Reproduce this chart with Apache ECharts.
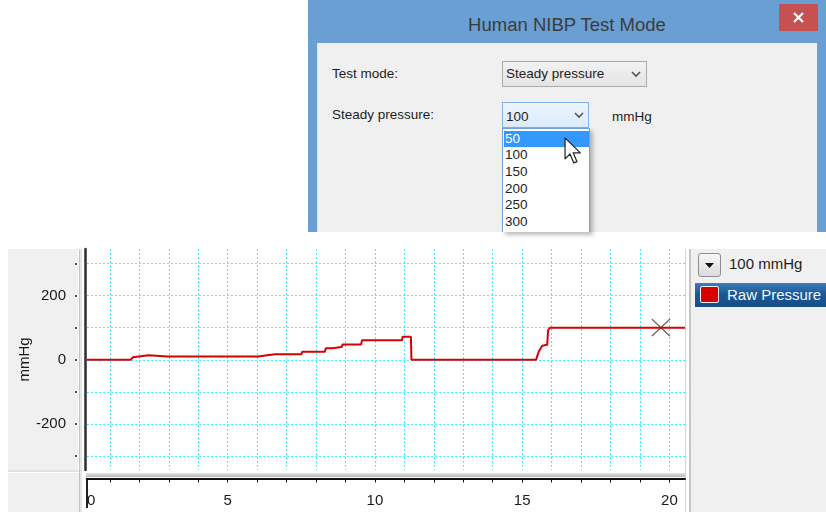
<!DOCTYPE html>
<html>
<head>
<meta charset="utf-8">
<title>Human NIBP Test Mode</title>
<script src="https://cdn.jsdelivr.net/npm/echarts@6.0.0/dist/echarts.min.js"></script>
<style>
html, body { margin: 0; padding: 0; }
body { width: 826px; height: 512px; overflow: hidden; background: #fff; position: relative; font-family: "Liberation Sans", Arial, sans-serif; color: #1e1e1e; }
.box { position: absolute; box-sizing: border-box; }
.txt { position: absolute; white-space: nowrap; font-size: 13.5px; line-height: 16px; }
#chart { position: absolute; left: 0; top: 232px; width: 826px; height: 280px; z-index: 2; }
.item { position: absolute; left: 1px; width: 85px; height: 16.7px; line-height: 16.7px; font-size: 13.5px; padding-left: 1px; box-sizing: border-box; }
</style>
</head>
<body>

<!-- dialog frame -->
<div class="box" style="left:308px;top:0;width:518px;height:232px;background:#6a9fd4;"></div>
<div class="txt" style="left:308px;top:12.5px;width:518px;text-align:center;font-size:18.5px;line-height:24px;color:#3c3c3c;">Human NIBP Test Mode</div>
<div class="box" style="left:779px;top:4px;width:39px;height:27px;background:#c75050;">
  <svg width="39" height="27" style="position:absolute;left:0;top:0"><path d="M15,9 L24,18 M24,9 L15,18" stroke="#fff" stroke-width="2.2"/></svg>
</div>
<div class="box" style="left:317px;top:43px;width:500px;height:189px;background:#f0f0f0;border-left:1px solid #dbe6f2;"></div>

<div class="txt" style="left:332px;top:66px;">Test mode:</div>
<div class="txt" style="left:332px;top:107px;">Steady pressure:</div>

<div class="box" style="left:502px;top:61px;width:145px;height:26px;border:1px solid #acacac;background:linear-gradient(#f2f2f2,#e4e4e4);"></div>
<div class="txt" style="left:506px;top:65.5px;">Steady pressure</div>
<svg class="box" style="left:631px;top:71px" width="10" height="7"><polyline points="1,1 5,5 9,1" fill="none" stroke="#555" stroke-width="1.6"/></svg>

<div class="box" style="left:502px;top:102px;width:87px;height:26px;border:1px solid #7eb4ea;background:linear-gradient(#eef5fd,#dbebfb);"></div>
<div class="txt" style="left:506px;top:108.5px;">100</div>
<svg class="box" style="left:574px;top:112px" width="10" height="7"><polyline points="1,1 5,5 9,1" fill="none" stroke="#555" stroke-width="1.6"/></svg>
<div class="txt" style="left:612px;top:108.5px;">mmHg</div>

<div class="box" id="list" style="left:502px;top:128px;width:88px;height:104px;border:1px solid #6fa3d9;border-bottom:none;background:#fff;box-shadow:3px 3px 4px rgba(0,0,0,0.25);"></div>

<svg class="box" style="left:564px;top:137px;z-index:3;" width="18" height="27" viewBox="0 0 13 20">
  <path d="M0.6,0.6 L0.6,16.2 L4.3,12.6 L7.1,19.2 L9.4,18.2 L6.7,11.8 L11.9,11.8 Z" fill="#fff" stroke="#222" stroke-width="0.9" stroke-linejoin="round"/>
</svg>

<!-- chart frame -->
<div class="box" style="left:8px;top:249px;width:70px;height:221px;background:#f0f0f0;"></div>
<div class="box" style="left:8px;top:473px;width:71px;height:39px;background:#f0f0f0;"></div>
<div class="box" style="left:79px;top:249px;width:1px;height:263px;background:#c4c4c4;"></div>
<div class="box" style="left:80px;top:249px;width:2px;height:263px;background:#e6e6e6;"></div>
<div class="box" style="left:8px;top:470px;width:71px;height:2px;background:#e2e2e2;"></div>
<div class="box" style="left:86px;top:473px;width:600px;height:4px;background:linear-gradient(#e6e6e6,#b4b4b4);"></div>
<div class="box" style="left:86px;top:478px;width:2px;height:30px;background:#222;"></div>
<div class="box" style="left:685px;top:249px;width:1px;height:263px;background:#d6d6d6;"></div>
<div class="box" style="left:689px;top:249px;width:2px;height:263px;background:#c6c6c6;"></div>
<div class="box" style="left:691px;top:249px;width:135px;height:263px;background:#f0f0f0;"></div>

<div class="box" style="left:698px;top:253px;width:23px;height:24px;border:1px solid #8e8e8e;border-radius:3px;background:linear-gradient(#f7f7f7,#dcdcdc);">
  <svg width="21" height="22" style="position:absolute;left:0;top:0"><polygon points="6,9 15,9 10.5,14" fill="#111"/></svg>
</div>
<div class="txt" style="left:729px;top:255px;font-size:15px;line-height:18px;">100 mmHg</div>
<div class="box" style="left:695px;top:283px;width:131px;height:24px;background:linear-gradient(#3c7ebf,#1c5895 45%,#164e86);"></div>
<div class="box" style="left:700px;top:286px;width:19px;height:17px;background:#d80000;border:1px solid #f2f2f2;border-radius:2px;"></div>
<div class="txt" style="left:727px;top:286px;font-size:15px;line-height:18px;color:#f2f6fa;">Raw Pressure</div>

<div id="chart"></div>

<script>
// dropdown entries of the steady pressure box
var pressureOptions = ['50', '100', '150', '200', '250', '300'];

// raw pressure trace: time (s) and pressure (mmHg)
var timeSec = [0.22, 1.70, 1.78, 1.84, 2.30, 2.36, 2.95, 2.97, 2.99, 5.42, 5.44, 5.47, 6.03, 6.06, 6.60, 7.50, 7.53,
    8.30, 8.33, 8.55, 8.57, 8.87, 8.90, 9.53, 9.56, 10.92, 10.94, 11.22, 11.24, 15.47, 15.52, 15.57, 15.63,
    15.68, 15.85, 15.88, 15.95, 17.34, 17.35, 17.37, 20.53];
var rawPressure = [0, 0, 8, 13, 14, 10, 10, 13, 10, 10, 13, 10, 10, 16, 17, 17, 25,
    25, 36, 36, 40, 40, 48, 48, 61, 61, 72, 72, 0, 0, 14, 27, 33,
    44, 47, 92, 100, 100, 104, 100, 100];

// cursor cross on the trace
var cursorPoint = [19.71, 100];

// axes
var xMin = 0.22, xMax = 20.53;
var xTickValues = [1, 2, 3, 4, 5, 6, 7, 8, 9, 10, 11, 12, 13, 14, 15, 16, 17, 18, 19, 20];
var xLabelValues = [xMin, 5, 10, 15, 20];
var xLabelText = ['0', '5', '10', '15', '20'];
var yMin = -343, yMax = 345;
var yTickValues = [-300, -200, -100, 0, 100, 200, 300];
var yLabelValues = [-200, 0, 200];

var listEl = document.getElementById('list');
for (var i = 0; i < pressureOptions.length; i++) {
    var el = document.createElement('div');
    el.className = 'item';
    el.style.top = (1.5 + i * 16.7) + 'px';
    el.textContent = pressureOptions[i];
    if (i == 0) {
        el.style.background = '#3399ff';
        el.style.color = '#fff';
    };
    listEl.appendChild(el);
};

var traceData = [];
for (var i = 0; i < timeSec.length; i++) {
    traceData.push([timeSec[i], rawPressure[i]]);
};

function xLabelFormatter(v) {
    for (var i = 0; i < xLabelValues.length; i++) {
        if (Math.abs(v - xLabelValues[i]) < 1e-6) {
            return xLabelText[i];
        };
    };
    return '';
};

var gridLine = { color: '#3cf0fc', type: [2, 2], width: 1 };

var myChart = echarts.init(document.getElementById('chart'));
myChart.setOption({
    animation: false,
    grid: { left: 87, right: 141, top: 17, bottom: 42 },
    xAxis: {
        type: 'value',
        min: xMin,
        max: xMax,
        offset: 8.5,
        axisLine: { onZero: false, lineStyle: { color: '#111', width: 2 } },
        axisTick: { customValues: xTickValues, length: 4, lineStyle: { color: '#111' } },
        axisLabel: {
            customValues: xLabelValues,
            margin: 15,
            alignMinLabel: 'left',
            fontFamily: 'Liberation Sans',
            fontSize: 15,
            color: '#1a1a1a',
            formatter: xLabelFormatter
        },
        splitLine: { show: true, lineStyle: gridLine }
    },
    yAxis: [{
        type: 'value',
        min: yMin,
        max: yMax,
        position: 'left',
        offset: 10,
        name: 'mmHg',
        nameLocation: 'middle',
        nameGap: 45,
        nameMoveOverlap: false,
        nameTextStyle: { fontFamily: 'Liberation Sans', fontSize: 15, color: '#1a1a1a' },
        axisLine: { show: false, onZero: false },
        axisTick: { customValues: yTickValues, length: 2, lineStyle: { color: '#555', width: 2 } },
        axisLabel: {
            customValues: yLabelValues,
            margin: 11,
            fontFamily: 'Liberation Sans',
            fontSize: 15,
            color: '#1a1a1a'
        },
        splitLine: { show: true, lineStyle: gridLine }
    }, {
        type: 'value',
        min: yMin,
        max: yMax,
        position: 'left',
        offset: 1.5,
        axisLine: { show: true, onZero: false, lineStyle: { color: '#2e2e2e', width: 2.5 } },
        axisTick: { show: false },
        axisLabel: { show: false },
        splitLine: { show: false }
    }],
    series: [{
        name: 'Raw Pressure',
        type: 'line',
        data: traceData,
        showSymbol: false,
        lineStyle: { color: '#d80000', width: 2 }
    }, {
        type: 'scatter',
        data: [cursorPoint],
        symbol: 'path://M0,0L10,10M10,0L0,10',
        symbolSize: [18, 17],
        itemStyle: { color: 'none', borderColor: '#2a2a2a', borderWidth: 1.2 }
    }]
});
</script>
</body>
</html>
